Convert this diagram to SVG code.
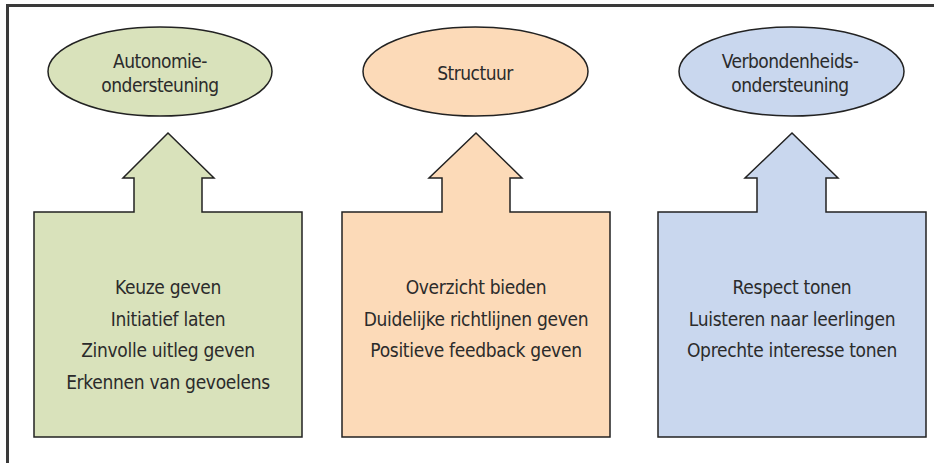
<svg xmlns="http://www.w3.org/2000/svg" width="934" height="463" viewBox="0 0 934 463">
<style>
.frame{stroke:#3a3a3a;stroke-width:3;fill:none}
.shape{stroke:#222;stroke-width:1.5;stroke-linejoin:miter}
.g{fill:#d9e2bb}
.o{fill:#fcdab8}
.b{fill:#c9d7ee}
text{font-family:"DejaVu Sans Condensed","DejaVu Sans",sans-serif;font-stretch:condensed;fill:#2b2b2b;text-anchor:middle}
.t{font-size:19px;letter-spacing:-0.5px}
.l{font-size:19px;letter-spacing:-0.3px}
</style>
<rect width="934" height="463" fill="#fff"/>
<g id="frame"><path class="frame" d="M7.5,463 V5.5 H934"/></g>
<g id="connectors">
<path class="shape g" d="M168,133 L214,178 L202,178 L202,212 L302,212 L302,437 L34,437 L34,212 L134,212 L134,178 L123,178 Z"/>
<path class="shape o" d="M476,133 L522,178 L510,178 L510,212 L610,212 L610,437 L342,437 L342,212 L442,212 L442,178 L429,178 Z"/>
<path class="shape b" d="M792,133 L838,178 L826,178 L826,212 L926,212 L926,437 L658,437 L658,212 L757,212 L757,178 L745,178 Z"/>
</g>
<g id="node-autonomie">
<ellipse class="shape g" cx="160" cy="71.5" rx="112" ry="44.5"/>
<text class="t" x="160" y="68">Autonomie-</text>
<text class="t" x="160" y="92">ondersteuning</text>
</g>
<g id="node-structuur">
<ellipse class="shape o" cx="475.5" cy="71.5" rx="112.5" ry="44.5"/>
<text class="t" x="475" y="80">Structuur</text>
</g>
<g id="node-verbondenheid">
<ellipse class="shape b" cx="791.5" cy="71.5" rx="112.5" ry="44.5"/>
<text class="t" x="790" y="68">Verbondenheids-</text>
<text class="t" x="790" y="92">ondersteuning</text>
</g>
<g id="box-autonomie">
<text class="l" x="168" y="294">Keuze geven</text>
<text class="l" x="168" y="325.5">Initiatief laten</text>
<text class="l" x="168" y="357">Zinvolle uitleg geven</text>
<text class="l" x="168" y="388.5">Erkennen van gevoelens</text>
</g>
<g id="box-structuur">
<text class="l" x="476" y="294">Overzicht bieden</text>
<text class="l" x="476" y="325.5">Duidelijke richtlijnen geven</text>
<text class="l" x="476" y="357">Positieve feedback geven</text>
</g>
<g id="box-verbondenheid">
<text class="l" x="792" y="294">Respect tonen</text>
<text class="l" x="792" y="325.5">Luisteren naar leerlingen</text>
<text class="l" x="792" y="357">Oprechte interesse tonen</text>
</g>
</svg>
